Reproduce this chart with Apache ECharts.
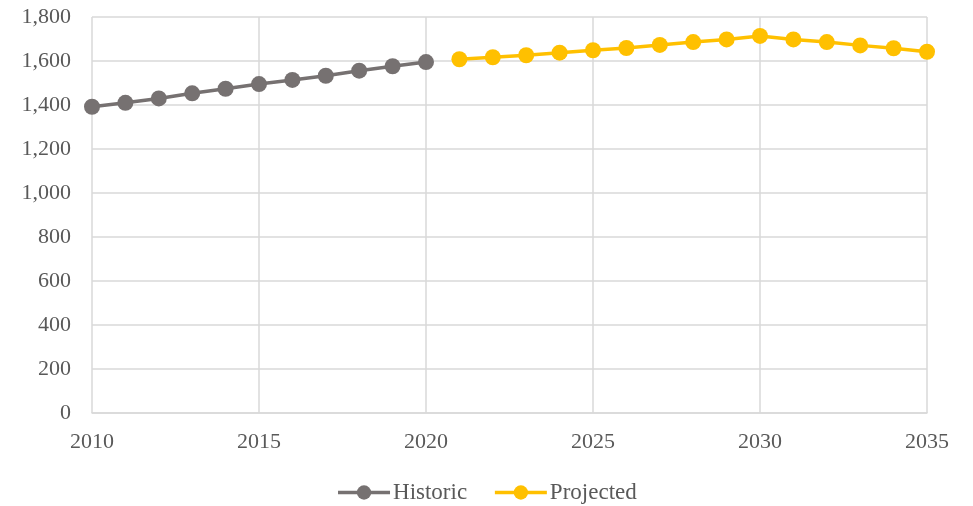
<!DOCTYPE html>
<html>
<head>
<meta charset="utf-8">
<script src="https://cdn.jsdelivr.net/npm/echarts@6/dist/echarts.min.js"></script>
<style>
  html, body { margin: 0; padding: 0; background: #fff; }
  #chart { width: 973px; height: 506px; }
</style>
</head>
<body>
<div id="chart"></div>
<script>
// Annual values
const historicYears = [2010, 2011, 2012, 2013, 2014, 2015, 2016, 2017, 2018, 2019, 2020];
const historicValues = [1392, 1410, 1430, 1453, 1474, 1495, 1514, 1533, 1556, 1576, 1595];
const projectedYears = [2021, 2022, 2023, 2024, 2025, 2026, 2027, 2028, 2029, 2030, 2031, 2032, 2033, 2034, 2035];
const projectedValues = [1608, 1617, 1626, 1638, 1649, 1659, 1673, 1686, 1698, 1714, 1698, 1686, 1671, 1658, 1642];
const seriesNames = ['Historic', 'Projected'];

const pair = (xs, ys) => xs.map((x, i) => [x, ys[i]]);
const fmtThousands = v => String(v).replace(/\B(?=(\d{3})+(?!\d))/g, ',');

const font = '"Liberation Serif", "Times New Roman", serif';
const gridColor = '#d9d9d9';
const textColor = '#595959';

const chart = echarts.init(document.getElementById('chart'));
chart.setOption({
  animation: false,
  backgroundColor: '#fff',
  grid: { left: 92, right: 46, top: 17, bottom: 93 },
  xAxis: {
    type: 'value',
    min: 2010, max: 2035, interval: 5,
    axisLine: { show: true, lineStyle: { color: gridColor, width: 1.5 } },
    axisTick: { show: false },
    splitLine: { show: true, lineStyle: { color: gridColor, width: 1.5 } },
    axisLabel: {
      formatter: v => String(v),
      color: textColor, fontFamily: font, fontSize: 22, margin: 18
    }
  },
  yAxis: {
    type: 'value',
    min: 0, max: 1800, interval: 200,
    axisLine: { show: false },
    axisTick: { show: false },
    splitLine: { show: true, lineStyle: { color: gridColor, width: 1.5 } },
    axisLabel: {
      formatter: v => fmtThousands(v),
      color: textColor, fontFamily: font, fontSize: 22, margin: 21
    }
  },
  legend: {
    top: 476,
    left: 'center',
    itemWidth: 52,
    itemHeight: 18,
    itemGap: 26,
    lineStyle: { width: 3.5 },
    textStyle: { color: textColor, fontFamily: font, fontSize: 23, padding: [0, 0, 0, -2] },
    data: seriesNames
  },
  series: [
    {
      name: seriesNames[0],
      type: 'line',
      data: pair(historicYears, historicValues),
      symbol: 'circle', symbolSize: 16,
      lineStyle: { color: '#767171', width: 3.5 },
      itemStyle: { color: '#767171' }
    },
    {
      name: seriesNames[1],
      type: 'line',
      data: pair(projectedYears, projectedValues),
      symbol: 'circle', symbolSize: 16,
      lineStyle: { color: '#ffc000', width: 3.5 },
      itemStyle: { color: '#ffc000' }
    }
  ]
});
</script>
</body>
</html>
